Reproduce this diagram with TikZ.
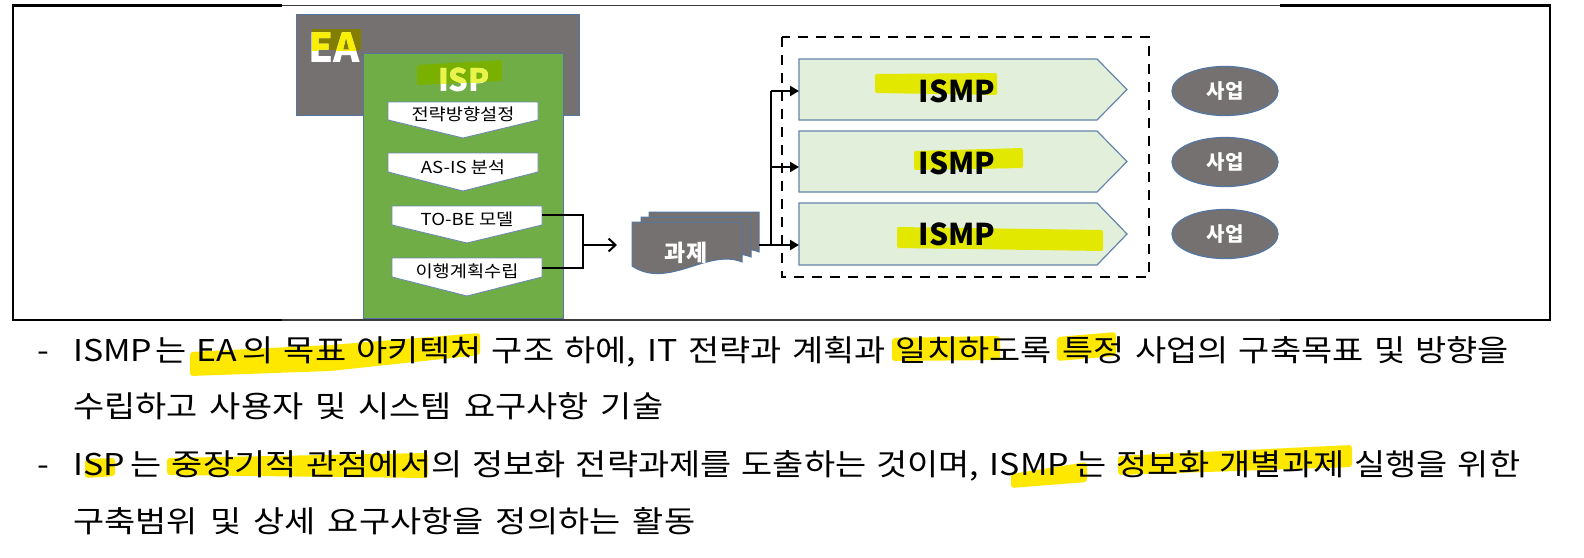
\documentclass[tikz,border=0pt]{standalone}
\usepackage{fontspec}
\setmainfont{Noto Sans CJK KR}
\newfontfamily\bodyfont{Noto Sans CJK KR}[FakeStretch=1.13]
\usetikzlibrary{arrows.meta,shapes.geometric}
\definecolor{boxgray}{RGB}{117,113,113}
\definecolor{edgeblue}{RGB}{84,118,160}
\definecolor{ispgreen}{RGB}{112,173,71}
\definecolor{ismpfill}{RGB}{226,239,218}
\definecolor{hlyellow}{RGB}{255,232,0}
\definecolor{hlismp}{RGB}{226,232,0}
\definecolor{hlea}{RGB}{132,126,0}
\definecolor{hlisp}{RGB}{122,176,0}
\definecolor{eayellow}{RGB}{248,240,0}
\definecolor{ispyellow}{RGB}{232,244,70}
\definecolor{frameline}{RGB}{60,60,60}
\begin{document}
\begin{tikzpicture}[x=1pt,y=-1pt,
  graybox/.style={fill=boxgray,draw=edgeblue,line width=1pt,inner sep=0pt},
  greenbox/.style={fill=ispgreen,draw=edgeblue,line width=1pt,inner sep=0pt},
  chevbox/.style={fill=white,draw=edgeblue!85,line width=0.9pt},
  ismpbox/.style={fill=ismpfill,draw=edgeblue!90,line width=1.2pt},
  chevtxt/.style={font=\bodyfont\fontsize{16.5}{17}\selectfont,inner sep=0pt},
  bigwhite/.style={text=white,inner sep=0pt},
  ismptxt/.style={font=\bfseries\fontsize{30}{30}\selectfont,inner sep=0pt,anchor=base},
  bizell/.style={ellipse,fill=boxgray,draw=edgeblue,line width=1.3pt,minimum width=106pt,minimum height=49pt,inner sep=0pt,text=white,font=\bfseries\fontsize{20}{20}\selectfont},
  conn/.style={line width=2pt,draw=black},
  hl/.style={fill=hlyellow,rounded corners=3pt},
  hlm/.style={fill=hlismp,rounded corners=2pt},
  bodytxt/.style={font=\bodyfont\fontsize{30}{30}\selectfont,inner sep=0pt,anchor=base west},
  frameedge/.style={line width=2.7pt,draw=black},
  framethin/.style={line width=1.2pt,draw=frameline}
]
\useasboundingbox (0,0) rectangle (1584,557);
\fill[white] (0,0) rectangle (1584,557);

% ---- EA box ----
\node[graybox,minimum width=283pt,minimum height=101pt] (eabox) at (437.5,64.5) {};
\fill[hlea] (312,29) rectangle (361,50);
\node[bigwhite,anchor=base west,font=\bfseries\fontsize{40}{40}\selectfont] (ealbl) at (308,62) {EA};
\begin{scope}
  \clip (312,29) rectangle (361,50);
  \node[anchor=base west,inner sep=0pt,text=eayellow,font=\bfseries\fontsize{40}{40}\selectfont] (ealblhl) at (308,62) {EA};
\end{scope}

% ---- ISP box ----
\node[greenbox,minimum width=200pt,minimum height=265pt] (ispbox) at (463,185.5) {};
\fill[hlisp,rounded corners=2pt] (417,65) -- (502,60) -- (502,81) -- (417,85) -- cycle;
\node[bigwhite,anchor=base,font=\bfseries\fontsize{31}{31}\selectfont] (isplbl) at (464,91) {ISP};
\begin{scope}
  \clip (417,65) -- (502,60) -- (502,81) -- (417,85) -- cycle;
  \node[anchor=base,inner sep=0pt,text=ispyellow,font=\bfseries\fontsize{31}{31}\selectfont] (isplblhl) at (464,91) {ISP};
\end{scope}

% ---- chevrons ----
\path[chevbox] (388,102) -- (538,102) -- (538,120) -- (463,138) -- (388,120) -- cycle;
\path[chevbox] (388,153) -- (538,153) -- (538,172) -- (463,191) -- (388,172) -- cycle;
\path[chevbox] (392,206) -- (542,206) -- (542,225) -- (467,243) -- (392,225) -- cycle;
\path[chevbox] (392,258) -- (542,258) -- (542,277) -- (467,296) -- (392,277) -- cycle;
\node[chevtxt] (ch1) at (463,114) {전략방향설정};
\node[chevtxt] (ch2) at (463,167) {AS-IS 분석};
\node[chevtxt] (ch3) at (467,219) {TO-BE 모델};
\node[chevtxt] (ch4) at (467,271) {이행계획수립};

% ---- bracket connector ----
\coordinate (c3e) at (542,215);
\coordinate (c4e) at (542,268);
\coordinate (brt) at (583,215);
\coordinate (brb) at (583,268);
\coordinate (brm) at (583,245);
\coordinate (docw) at (617,245);
\draw[conn] (c3e) -- (brt) -- (brb) -- (c4e);
\draw[conn,-{Straight Barb[length=7pt,width=13pt]}] (brm) -- (docw);

% ---- task documents ----
\path[graybox] (649,212) -- (759,212) -- (759,252) .. controls (725,238) and (685,280) .. (649,256) -- cycle;
\path[graybox] (641,217) -- (751,217) -- (751,257) .. controls (717,243) and (677,285) .. (641,261) -- cycle;
\path[graybox] (632,222) -- (742,222) -- (742,262) .. controls (708,248) and (668,290) .. (632,266) -- cycle;
\node[bigwhite,anchor=base,font=\bfseries\fontsize{23}{23}\selectfont] (task) at (686,261) {과제};

% ---- dashed group ----
\draw[line width=2.6pt,dash pattern=on 10pt off 8pt] (782,37) rectangle (1149,277);

% ---- ISMP arrows ----
\path[ismpbox] (799,59) -- (1097,59) -- (1127,89.5) -- (1097,120) -- (799,120) -- cycle;
\path[ismpbox] (799,131) -- (1097,131) -- (1127,161.5) -- (1097,192) -- (799,192) -- cycle;
\path[ismpbox] (799,203) -- (1097,203) -- (1127,234) -- (1097,265) -- (799,265) -- cycle;
\path[hlm] (875,74) -- (997,73) -- (997,95) -- (875,93) -- cycle;
\path[hlm] (914,151) -- (1023,148) -- (1023,168) -- (914,170) -- cycle;
\path[hlm] (897,227) -- (1103,230) -- (1103,251) -- (897,248) -- cycle;
\node[ismptxt] (ismp1) at (957,102) {ISMP};
\node[ismptxt] (ismp2) at (957,174) {ISMP};
\node[ismptxt] (ismp3) at (957,245) {ISMP};

% ---- connectors to ISMP ----
\coordinate (doce) at (759,245);
\coordinate (b1) at (771,91);
\coordinate (b2) at (771,167);
\coordinate (b3) at (771,245);
\coordinate (i1w) at (799,91);
\coordinate (i2w) at (799,167);
\coordinate (i3w) at (799,245);
\draw[conn] (b3) -- (b1);
\draw[conn,-{Triangle[length=9pt,width=10pt]}] (b1) -- (i1w);
\draw[conn,-{Triangle[length=9pt,width=10pt]}] (b2) -- (i2w);
\draw[conn,-{Triangle[length=9pt,width=10pt]}] (doce) -- (i3w);

% ---- business ellipses ----
\node[bizell] (biz1) at (1225,91) {사업};
\node[bizell] (biz2) at (1225,162) {사업};
\node[bizell] (biz3) at (1225,234) {사업};

% ---- frame ----
\draw[frameedge] (282,5.5) -- (13,5.5) -- (13,320) -- (282,320);
\draw[frameedge] (1280,5.5) -- (1550,5.5) -- (1550,320) -- (1280,320);
\draw[framethin] (282,5.5) -- (1280,5.5);
\draw[framethin] (282,320) -- (1280,320);

% ---- text highlights ----
\path[hl] (190,352) -- (330,345) -- (480,333) -- (480,355) -- (330,371) -- (190,376) -- cycle;
\path[hl] (892,338) -- (1000,336) -- (1000,360) -- (892,361) -- cycle;
\path[hl] (1057,337) -- (1116,332) -- (1116,356) -- (1057,361) -- cycle;
\path[hl] (85,459) -- (115,458) -- (115,476) -- (85,478) -- cycle;
\path[hl] (167,458) -- (428,453) -- (428,478) -- (167,475) -- cycle;
\path[hl] (1011,474) -- (1087,462) -- (1087,482) -- (1011,488) -- cycle;
\path[hl] (1118,456) -- (1352,445) -- (1352,467) -- (1118,475) -- cycle;

% ---- body text ----
\node[bodytxt] (d1) at (37,361) {-};
\node[bodytxt] (d3) at (37,475) {-};
\node[bodytxt] (t1) at (73,361) {\makebox[1436pt][s]{ISMP\hspace{3pt}는 EA\hspace{5pt}의 목표 아키텍처 구조 하에, IT 전략과 계획과 일치하도록 특정 사업의 구축목표 및 방향을}};
\node[bodytxt] (t2) at (73,417) {\makebox[590pt][s]{수립하고 사용자 및 시스템 요구사항 기술}};
\node[bodytxt] (t3) at (73,475) {\makebox[1447pt][s]{ISP\hspace{6pt}는 중장기적 관점에서의 정보화 전략과제를 도출하는 것이며, ISMP\hspace{6pt}는 정보화 개별과제 실행을 위한}};
\node[bodytxt] (t4) at (73,532) {\makebox[622pt][s]{구축범위 및 상세 요구사항을 정의하는 활동}};
\end{tikzpicture}
\end{document}
